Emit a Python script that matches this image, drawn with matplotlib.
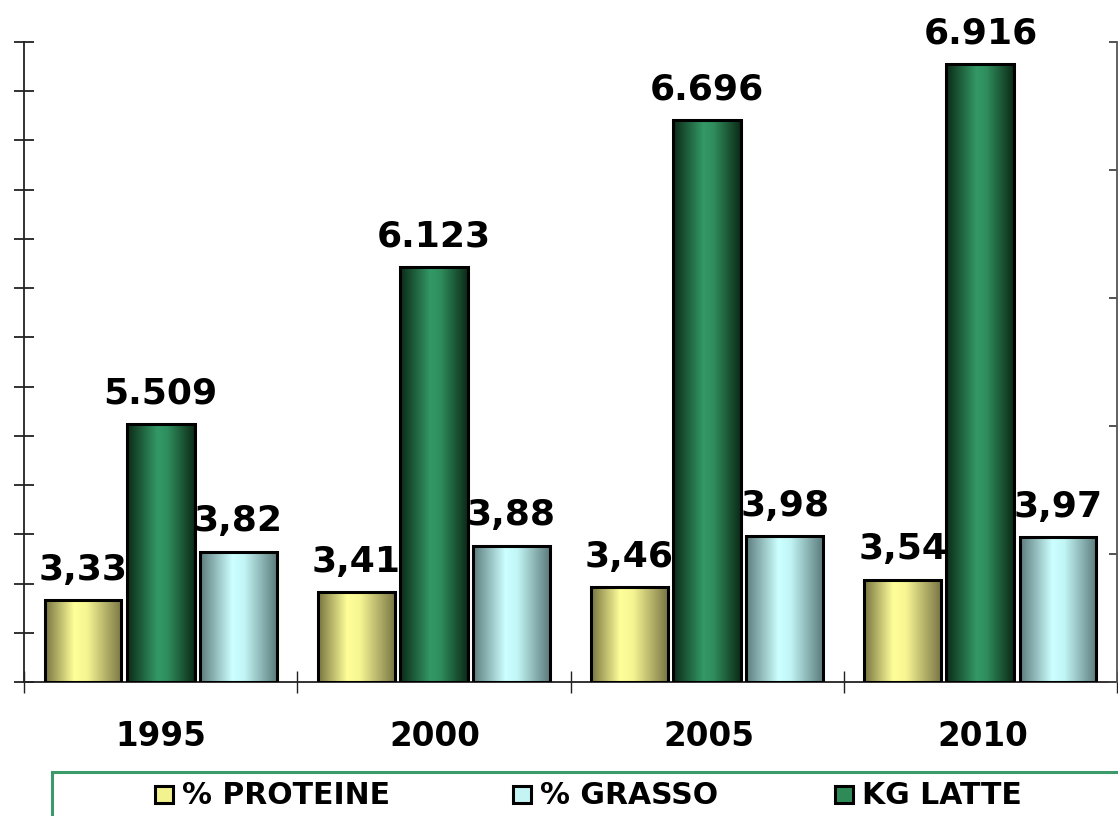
import matplotlib
matplotlib.use("Agg")
import matplotlib.pyplot as plt
import numpy as np
from matplotlib.colors import LinearSegmentedColormap
from matplotlib.patches import Rectangle

years = ["1995", "2000", "2005", "2010"]
proteine = [3.33, 3.41, 3.46, 3.54]
grasso = [3.82, 3.88, 3.98, 3.97]
latte = [5509, 6123, 6696, 6916]
prot_labels = ["3,33", "3,41", "3,46", "3,54"]
grasso_labels = ["3,82", "3,88", "3,98", "3,97"]
latte_labels = ["5.509", "6.123", "6.696", "6.916"]
legend_labels = ["% PROTEINE", "% GRASSO", "KG LATTE"]

W, H = 1118, 816
fig = plt.figure(figsize=(W / 100, H / 100), dpi=100)
ax = fig.add_axes([24 / W, 134 / H, 1093 / W, 640 / H])
ax2 = ax.twinx()

cm_prot = LinearSegmentedColormap.from_list("p", [(0, "#77733f"), (0.38, "#ffff99"), (0.55, "#f6f592"), (1, "#7a7645")])
cm_latte = LinearSegmentedColormap.from_list("l", [(0, "#0b2a16"), (0.45, "#339966"), (0.6, "#2f8d5c"), (1, "#0b2a16")])
cm_gras = LinearSegmentedColormap.from_list("g", [(0, "#5c7b7c"), (0.42, "#ccffff"), (0.58, "#c2f5f5"), (1, "#5c7b7c")])

x = np.arange(len(years))
off = 0.284
wp = 0.281
wl = 0.248

grad = np.linspace(0, 1, 256).reshape(1, -1)


def gradient_bars(a, bars, cmap):
    for b in bars:
        x0, y0 = b.get_x(), b.get_y()
        w, h = b.get_width(), b.get_height()
        im = a.imshow(grad, cmap=cmap, extent=(x0, x0 + w, y0, y0 + h),
                      aspect="auto", zorder=b.get_zorder() - 0.1, interpolation="bicubic")
        im.set_clip_path(b)


bp = ax.bar(x - off, [v - 2.5 for v in proteine], bottom=2.5, width=wp, facecolor="none",
            edgecolor="black", linewidth=2.2, zorder=3)
bg = ax.bar(x + off, [v - 2.5 for v in grasso], bottom=2.5, width=wp, facecolor="none",
            edgecolor="black", linewidth=2.2, zorder=3)
bl = ax2.bar(x, [v - 4500 for v in latte], bottom=4500, width=wl, facecolor="none",
             edgecolor="black", linewidth=2.2, zorder=3)
gradient_bars(ax, bp, cm_prot)
gradient_bars(ax, bg, cm_gras)
gradient_bars(ax2, bl, cm_latte)

ax.set_xlim(-0.5, 3.5)
ax.set_ylim(2.5, 9.0)
ax2.set_ylim(4500, 7000)
ax.set_yticks(np.arange(2.5, 9.01, 0.5))
ax.set_yticklabels([])
ax2.set_yticks(np.arange(4500, 7001, 500))
ax2.set_yticklabels([])
ax.set_xticks(np.arange(-0.5, 3.6, 1.0))
ax.set_xticklabels([])

for a in (ax, ax2):
    a.spines["top"].set_visible(False)
    for s in a.spines.values():
        s.set_linewidth(1.3)
        s.set_color("#222222")
ax.spines["right"].set_visible(False)
ax2.spines["left"].set_visible(False)
ax2.spines["bottom"].set_visible(False)
ax2.spines["right"].set_color("#555555")
ax.tick_params(axis="y", direction="inout", length=15, width=1.3, color="#222222")
ax.tick_params(axis="x", direction="inout", length=16, width=1.0, color="#222222")
ax2.tick_params(axis="y", direction="in", length=6, width=1.3, color="#444444")

fs = 26
for i in range(len(years)):
    ax.text(x[i] - off, proteine[i] + 0.21, prot_labels[i], ha="center", va="baseline",
            fontsize=fs, fontweight="bold", zorder=5)
    ax.text(x[i] + off, grasso[i] + 0.21, grasso_labels[i], ha="center", va="baseline",
            fontsize=fs, fontweight="bold", zorder=5)
    ax2.text(x[i], latte[i] + 80, latte_labels[i], ha="center", va="baseline",
             fontsize=fs, fontweight="bold", zorder=5)
    fig.text((161 + 274 * i) / W, 1 - 737 / H, years[i], ha="center", va="center",
             fontsize=23.5, fontweight="bold")

# legend box
fig.patches.append(Rectangle((52 / W, -0.05), 1.2, (816 - 772) / H + 0.05, transform=fig.transFigure,
                             facecolor="white", edgecolor="#3a9a6a", linewidth=2.2))
leg_x = [155, 513, 835]
leg_cols = ["#f2f28f", "#c4f4f4", "#2e8b57"]
for lx, lc, lt in zip(leg_x, leg_cols, legend_labels):
    fig.patches.append(Rectangle((lx / W, 1 - 803 / H), 18 / W, 17 / H, transform=fig.transFigure,
                                 facecolor=lc, edgecolor="black", linewidth=2.2))
    fig.text((lx + 27) / W, 1 - 795 / H, lt, ha="left", va="center", fontsize=21.5, fontweight="bold")

fig.savefig("out.png", dpi=100)
